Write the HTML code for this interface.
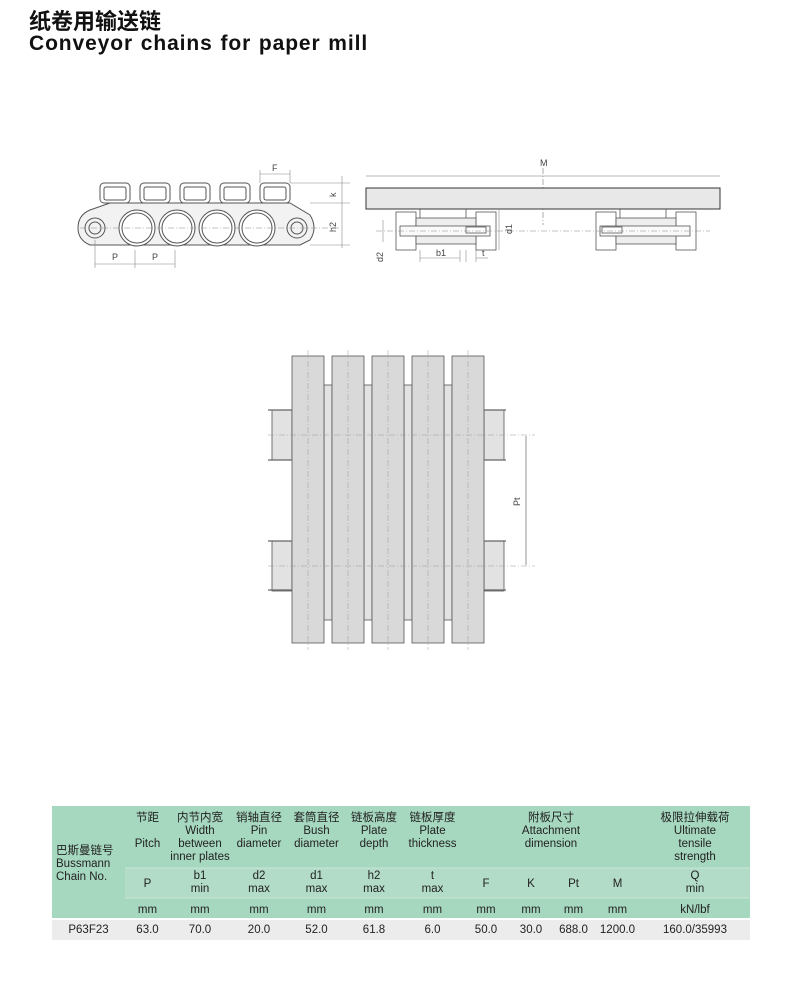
<!DOCTYPE html>
<html><head><meta charset="utf-8"><style>
body{margin:0;background:#fff;width:800px;height:983px;position:relative;overflow:hidden;font-family:"Liberation Sans","Noto Sans CJK SC",sans-serif}
.t1{position:absolute;left:29px;top:4px;font-size:22px;font-weight:bold;color:#111;font-family:"Noto Sans CJK SC",sans-serif}
.t2{position:absolute;left:29px;top:32px;font-size:21px;font-weight:bold;color:#111;letter-spacing:0.9px;word-spacing:1px}
svg{position:absolute;left:0;top:0}
.tb{position:absolute;left:52px;top:806px;width:698px}
.c{position:absolute;text-align:center;font-size:11.5px;color:#222;line-height:13px;font-family:"Liberation Sans","Noto Sans CJK SC",sans-serif}
</style></head><body>
<div class="t1">纸卷用输送链</div>
<div class="t2">Conveyor chains for paper mill</div>
<svg width="800" height="983" viewBox="0 0 800 983">
<g fill="none" stroke="#555" stroke-width="1">
<rect x="100" y="183" width="30" height="20" rx="4"/><rect x="104" y="187" width="22" height="13" rx="2"/>
<rect x="140" y="183" width="30" height="20" rx="4"/><rect x="144" y="187" width="22" height="13" rx="2"/>
<rect x="180" y="183" width="30" height="20" rx="4"/><rect x="184" y="187" width="22" height="13" rx="2"/>
<rect x="220" y="183" width="30" height="20" rx="4"/><rect x="224" y="187" width="22" height="13" rx="2"/>
<rect x="260" y="183" width="30" height="20" rx="4"/><rect x="264" y="187" width="22" height="13" rx="2"/>
<path d="M110 203 L290 203 L310 215 Q318 228 310 240 L300 245 L90 245 Q78 240 78 228 Q78 215 90 210 Z" fill="#f2f2f2"/>
<circle cx="95" cy="228" r="10"/><circle cx="95" cy="228" r="6"/>
<circle cx="297" cy="228" r="10"/><circle cx="297" cy="228" r="6"/>
<circle cx="137" cy="228" r="18" fill="#fff"/><circle cx="137" cy="228" r="15"/>
<circle cx="177" cy="228" r="18" fill="#fff"/><circle cx="177" cy="228" r="15"/>
<circle cx="217" cy="228" r="18" fill="#fff"/><circle cx="217" cy="228" r="15"/>
<circle cx="257" cy="228" r="18" fill="#fff"/><circle cx="257" cy="228" r="15"/>
</g>
<g stroke="#888" stroke-width="0.6" fill="none">
<line x1="80" y1="228" x2="340" y2="228" stroke-dasharray="6,2,1,2"/>
<line x1="95" y1="240" x2="95" y2="268"/><line x1="135" y1="250" x2="135" y2="268"/><line x1="175" y1="250" x2="175" y2="268"/>
<line x1="95" y1="264" x2="175" y2="264"/>
<line x1="260" y1="170" x2="260" y2="183"/><line x1="290" y1="170" x2="290" y2="183"/><line x1="260" y1="174" x2="290" y2="174"/>
<line x1="290" y1="183" x2="350" y2="183"/><line x1="310" y1="203" x2="350" y2="203"/><line x1="310" y1="245" x2="350" y2="245"/>
<line x1="342" y1="176" x2="342" y2="248"/>
</g>
<g font-size="9" fill="#444" font-family="Liberation Sans">
<text x="112" y="260">P</text><text x="152" y="260">P</text><text x="272" y="171">F</text>
<text x="336" y="197" transform="rotate(-90 336 197)">k</text>
<text x="336" y="232" transform="rotate(-90 336 232)">h2</text>
</g>
<g stroke="#777" stroke-width="0.6" fill="none">
<line x1="366" y1="176" x2="720" y2="176"/><line x1="543" y1="168" x2="543" y2="225" stroke-dasharray="6,2,1,2"/>
</g>
<text x="540" y="166" font-size="9" fill="#444">M</text>
<rect x="366" y="188" width="354" height="21" fill="#e8e8e8" stroke="#333" stroke-width="1"/>
<g stroke="#555" stroke-width="0.8" fill="#fff">
<rect x="396" y="212" width="20" height="38"/><rect x="476" y="212" width="20" height="38"/>
<rect x="416" y="218" width="60" height="26" fill="#eee"/>
<rect x="400" y="226" width="90" height="10" fill="#fafafa"/>
<rect x="466" y="227" width="20" height="6"/>
<rect x="596" y="212" width="20" height="38"/><rect x="676" y="212" width="20" height="38"/>
<rect x="616" y="218" width="60" height="26" fill="#eee"/>
<rect x="600" y="226" width="90" height="10" fill="#fafafa"/>
<rect x="602" y="227" width="20" height="6"/>
<line x1="420" y1="209" x2="420" y2="218"/><line x1="466" y1="209" x2="466" y2="218"/>
<line x1="620" y1="209" x2="620" y2="218"/><line x1="666" y1="209" x2="666" y2="218"/>
</g>
<g stroke="#888" stroke-width="0.6" fill="none">
<line x1="376" y1="231" x2="710" y2="231" stroke-dasharray="6,2,1,2"/>
<line x1="383" y1="220" x2="383" y2="242"/><line x1="499" y1="210" x2="499" y2="250"/>
<line x1="420" y1="250" x2="420" y2="262"/><line x1="460" y1="250" x2="460" y2="262"/><line x1="420" y1="258" x2="460" y2="258"/>
<line x1="466" y1="250" x2="466" y2="262"/><line x1="476" y1="250" x2="476" y2="262"/><line x1="476" y1="258" x2="488" y2="258"/>
</g>
<g font-size="9" fill="#444">
<text x="383" y="262" transform="rotate(-90 383 262)">d2</text>
<text x="512" y="234" transform="rotate(-90 512 234)">d1</text>
<text x="436" y="256">b1</text><text x="482" y="256">t</text>
</g>
<g stroke="#555" stroke-width="0.8" fill="#e2e2e2">
<rect x="272" y="410" width="20" height="50"/><rect x="272" y="541" width="20" height="50"/>
<rect x="484" y="410" width="20" height="50"/><rect x="484" y="541" width="20" height="50"/>
<rect x="324" y="385" width="8" height="235"/><rect x="364" y="385" width="8" height="235"/><rect x="404" y="385" width="8" height="235"/><rect x="444" y="385" width="8" height="235"/>
<rect x="292" y="356" width="32" height="287" fill="#d9d9d9"/>
<rect x="332" y="356" width="32" height="287" fill="#d9d9d9"/>
<rect x="372" y="356" width="32" height="287" fill="#d9d9d9"/>
<rect x="412" y="356" width="32" height="287" fill="#d9d9d9"/>
<rect x="452" y="356" width="32" height="287" fill="#d9d9d9"/>
</g>
<g stroke="#666" stroke-width="1.2">
<line x1="268" y1="410" x2="292" y2="410"/><line x1="268" y1="460" x2="292" y2="460"/>
<line x1="268" y1="541" x2="292" y2="541"/><line x1="268" y1="590" x2="292" y2="590"/>
<line x1="484" y1="410" x2="506" y2="410"/><line x1="484" y1="460" x2="506" y2="460"/>
<line x1="484" y1="541" x2="506" y2="541"/><line x1="484" y1="590" x2="506" y2="590"/>
</g>
<g stroke="#999" stroke-width="0.5" fill="none" stroke-dasharray="6,2,1,2">
<line x1="268" y1="435" x2="535" y2="435"/><line x1="268" y1="566" x2="535" y2="566"/>
<line x1="308" y1="350" x2="308" y2="650"/><line x1="348" y1="350" x2="348" y2="650"/><line x1="388" y1="350" x2="388" y2="650"/><line x1="428" y1="350" x2="428" y2="650"/><line x1="468" y1="350" x2="468" y2="650"/>
</g>
<line x1="526" y1="436" x2="526" y2="565" stroke="#666" stroke-width="0.7"/>
<text x="520" y="506" font-size="9" fill="#444" transform="rotate(-90 520 506)">Pt</text>
<rect x="52" y="806" width="698" height="112" fill="#a6d7bf"/>
<rect x="125" y="868" width="625" height="30" fill="#b2dcc8"/>
<line x1="125" y1="868" x2="750" y2="868" stroke="#c6e6d6" stroke-width="1"/>
<line x1="125" y1="898" x2="750" y2="898" stroke="#c6e6d6" stroke-width="1"/>
<rect x="52" y="920" width="698" height="20" fill="#ececec"/>
</svg>
<div class="tb">
<div class="c" style="left:0;top:39px;width:73px;text-align:left;padding-left:4px">巴斯曼链号<br>Bussmann<br>Chain No.</div>
<div class="c" style="left:73px;top:6px;width:45px">节距<br><br>Pitch</div>
<div class="c" style="left:118px;top:6px;width:60px">内节内宽<br>Width<br>between<br>inner plates</div>
<div class="c" style="left:178px;top:6px;width:58px">销轴直径<br>Pin<br>diameter</div>
<div class="c" style="left:236px;top:6px;width:57px">套筒直径<br>Bush<br>diameter</div>
<div class="c" style="left:293px;top:6px;width:58px">链板高度<br>Plate<br>depth</div>
<div class="c" style="left:351px;top:6px;width:59px">链板厚度<br>Plate<br>thickness</div>
<div class="c" style="left:410px;top:6px;width:178px">附板尺寸<br>Attachment<br>dimension</div>
<div class="c" style="left:588px;top:6px;width:110px">极限拉伸载荷<br>Ultimate<br>tensile<br>strength</div>
<div class="c" style="left:73px;top:72px;width:45px">P</div>
<div class="c" style="left:118px;top:64px;width:60px">b1<br>min</div>
<div class="c" style="left:178px;top:64px;width:58px">d2<br>max</div>
<div class="c" style="left:236px;top:64px;width:57px">d1<br>max</div>
<div class="c" style="left:293px;top:64px;width:58px">h2<br>max</div>
<div class="c" style="left:351px;top:64px;width:59px">t<br>max</div>
<div class="c" style="left:410px;top:72px;width:48px">F</div>
<div class="c" style="left:458px;top:72px;width:42px">K</div>
<div class="c" style="left:500px;top:72px;width:43px">Pt</div>
<div class="c" style="left:543px;top:72px;width:45px">M</div>
<div class="c" style="left:588px;top:64px;width:110px">Q<br>min</div>
<div class="c" style="left:73px;top:98px;width:45px">mm</div>
<div class="c" style="left:118px;top:98px;width:60px">mm</div>
<div class="c" style="left:178px;top:98px;width:58px">mm</div>
<div class="c" style="left:236px;top:98px;width:57px">mm</div>
<div class="c" style="left:293px;top:98px;width:58px">mm</div>
<div class="c" style="left:351px;top:98px;width:59px">mm</div>
<div class="c" style="left:410px;top:98px;width:48px">mm</div>
<div class="c" style="left:458px;top:98px;width:42px">mm</div>
<div class="c" style="left:500px;top:98px;width:43px">mm</div>
<div class="c" style="left:543px;top:98px;width:45px">mm</div>
<div class="c" style="left:588px;top:98px;width:110px">kN/lbf</div>
<div class="c" style="left:0;top:118px;width:73px">P63F23</div>
<div class="c" style="left:73px;top:118px;width:45px">63.0</div>
<div class="c" style="left:118px;top:118px;width:60px">70.0</div>
<div class="c" style="left:178px;top:118px;width:58px">20.0</div>
<div class="c" style="left:236px;top:118px;width:57px">52.0</div>
<div class="c" style="left:293px;top:118px;width:58px">61.8</div>
<div class="c" style="left:351px;top:118px;width:59px">6.0</div>
<div class="c" style="left:410px;top:118px;width:48px">50.0</div>
<div class="c" style="left:458px;top:118px;width:42px">30.0</div>
<div class="c" style="left:500px;top:118px;width:43px">688.0</div>
<div class="c" style="left:543px;top:118px;width:45px">1200.0</div>
<div class="c" style="left:588px;top:118px;width:110px">160.0/35993</div>
</div>
</body></html>
